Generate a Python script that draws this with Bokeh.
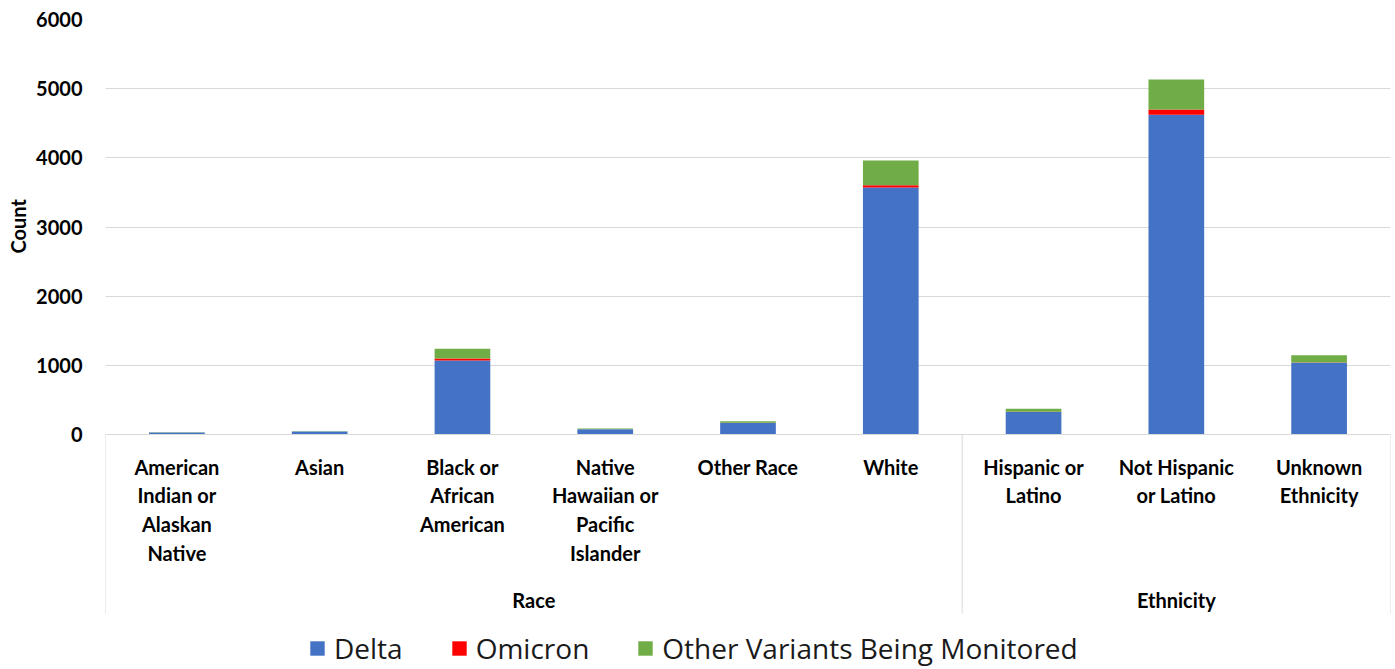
from bokeh.plotting import figure
from bokeh.models import (FactorRange, ColumnDataSource, FixedTicker, Legend, LegendItem,
                          Range1d, Title)
from bokeh.embed import file_html
from bokeh.resources import INLINE

groups = ["Race"] * 6 + ["Ethnicity"] * 3
categories = [
    "American\nIndian or\nAlaskan\nNative",
    "Asian",
    "Black or\nAfrican\nAmerican",
    "Native\nHawaiian or\nPacific\nIslander",
    "Other Race",
    "White",
    "Hispanic or\nLatino",
    "Not Hispanic\nor Latino",
    "Unknown\nEthnicity",
]
delta = [28, 42, 1070, 75, 168, 3572, 325, 4623, 1037]
omicron = [0, 0, 30, 0, 2, 33, 3, 77, 3]
other = [3, 6, 140, 10, 20, 357, 43, 434, 107]
series = ["Delta", "Omicron", "Other Variants Being Monitored"]
colors = ["#4472C4", "#FF0000", "#70AD47"]
y_ticks = [0, 1000, 2000, 3000, 4000, 5000, 6000]

x = list(zip(groups, categories))
source = ColumnDataSource(data=dict(x=x, Delta=delta, Omicron=omicron,
                                    **{"Other Variants Being Monitored": other}))

FONT = "Lato"
W, H = 1395, 669
FRAME_TOP, ZERO_PX = 19, 434
units_per_px = y_ticks[-1] / (ZERO_PX - FRAME_TOP)
y_min = -(H - ZERO_PX) * units_per_px

p = figure(x_range=FactorRange(*x, factor_padding=0, group_padding=0, range_padding=0),
           y_range=Range1d(y_min, y_ticks[-1]), width=W, height=H,
           output_backend="svg", toolbar_location=None,
           min_border_left=105, min_border_right=5, min_border_top=FRAME_TOP, min_border_bottom=0)

rs = p.vbar_stack(series, x="x", width=0.39, source=source, color=colors, line_color=None)

# group separators below the axis (left edge, between groups, right edge)
sep_x = [(groups[0], categories[0], -0.5)]
for i in range(1, len(groups)):
    if groups[i] != groups[i - 1]:
        sep_x.append((groups[i], categories[i], -0.5))
sep_x.append((groups[-1], categories[-1], 0.5))
sep_len = 179 * units_per_px
p.segment(x0=sep_x, x1=sep_x, y0=[0] * len(sep_x), y1=[-sep_len] * len(sep_x),
          line_color="#D9D9D9", line_width=1)

p.outline_line_color = None
p.xgrid.grid_line_color = None
p.ygrid.grid_line_color = "#D9D9D9"
p.ygrid.grid_line_width = 1

ya = p.yaxis[0]
ya.ticker = FixedTicker(ticks=y_ticks)
ya.axis_line_color = None
ya.major_tick_line_color = None
ya.minor_tick_line_color = None
ya.major_tick_out = 0
ya.minor_tick_out = 0
ya.major_label_text_font = FONT
ya.major_label_text_font_style = "bold"
ya.major_label_text_font_size = "20px"
ya.major_label_text_color = "#000000"
ya.major_label_standoff = 23

p.add_layout(Title(text="Count", align="left", offset=H - 253,
                   text_font=FONT, text_font_style="bold", text_font_size="20px",
                   text_color="#000000", standoff=7), "left")

xa = p.xaxis[0]
xa.fixed_location = 0
xa.axis_line_color = "#D9D9D9"
xa.major_tick_line_color = None
xa.minor_tick_line_color = None
xa.major_tick_out = 0
xa.minor_tick_out = 0
xa.major_label_orientation = "horizontal"
xa.major_label_text_font = FONT
xa.major_label_text_font_style = "bold"
xa.major_label_text_font_size = "20px"
xa.major_label_text_color = "#000000"
xa.major_label_text_line_height = 1.2
xa.major_label_standoff = 20
xa.group_text_font = FONT
xa.group_text_font_style = "bold"
xa.group_text_font_size = "20px"
xa.group_text_color = "#000000"
xa.separator_line_color = None

lg = Legend(items=[LegendItem(label=s, renderers=[r]) for s, r in zip(series, rs)],
            orientation="horizontal", location=(203, 2), padding=0, margin=0,
            border_line_color=None, background_fill_alpha=0,
            label_text_font="Open Sans", label_text_font_size="28px", label_text_color="#1A1A1A",
            glyph_width=18, glyph_height=18, spacing=47, label_standoff=8)
p.add_layout(lg, "center")

open("out.html", "w").write(file_html(p, INLINE))
